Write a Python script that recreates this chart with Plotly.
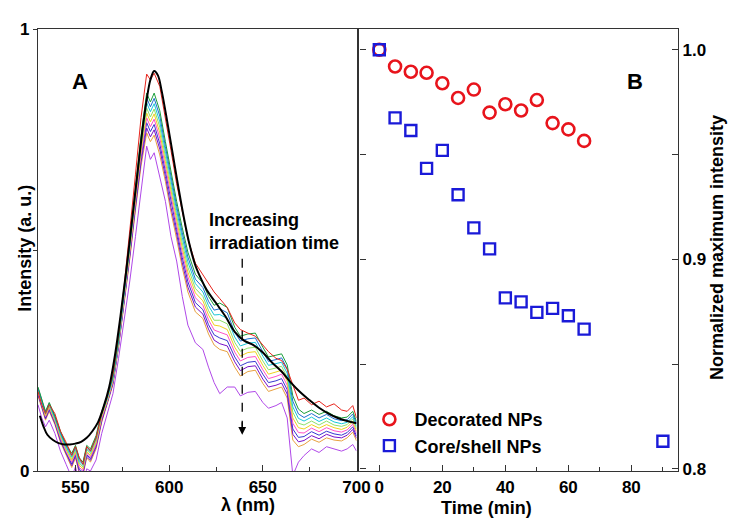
import plotly.graph_objects as go

# ---------------- Panel A data (spectra) ----------------
WL = [530, 532, 534, 536, 539, 542, 545, 548, 550, 552, 554, 556, 558, 561, 564, 567, 570, 573, 576, 579,
      582, 585, 588, 590, 592, 595, 598, 601, 604, 607, 610, 614, 618, 621, 624, 627, 631, 635, 638, 642,
      646, 650, 653, 657, 660, 663, 666, 669, 672, 676, 680, 684, 688, 692, 695, 698, 700]

RED = [0.18, 0.15, 0.13, 0.15, 0.13, 0.09, 0.065, 0.035, 0.055, 0.03, 0.015, 0.055, 0.045, 0.075, 0.13, 0.17, 0.22, 0.31, 0.42, 0.54,
       0.67, 0.80, 0.898, 0.885, 0.90, 0.87, 0.80, 0.725, 0.65, 0.585, 0.525, 0.47, 0.445, 0.425, 0.405, 0.39, 0.37, 0.335, 0.32, 0.312,
       0.305, 0.285, 0.27, 0.255, 0.25, 0.23, 0.195, 0.16, 0.165, 0.15, 0.158, 0.145, 0.152, 0.138, 0.135, 0.148, 0.12]

M1 = [0.19, 0.16, 0.135, 0.155, 0.125, 0.09, 0.06, 0.04, 0.058, 0.03, 0.02, 0.058, 0.05, 0.08, 0.135, 0.17, 0.215, 0.30, 0.405, 0.52,
      0.64, 0.76, 0.855, 0.835, 0.855, 0.815, 0.745, 0.675, 0.61, 0.55, 0.495, 0.445, 0.425, 0.395, 0.375, 0.38, 0.37, 0.325, 0.305, 0.31,
      0.312, 0.28, 0.258, 0.262, 0.265, 0.24, 0.17, 0.14, 0.13, 0.138, 0.128, 0.135, 0.125, 0.12, 0.122, 0.135, 0.112]

M2 = [0.188, 0.158, 0.133, 0.153, 0.123, 0.087, 0.057, 0.036, 0.055, 0.026, 0.016, 0.055, 0.046, 0.076, 0.132, 0.168, 0.213, 0.298, 0.401, 0.515,
      0.634, 0.751, 0.844, 0.824, 0.843, 0.803, 0.734, 0.664, 0.599, 0.539, 0.484, 0.434, 0.415, 0.384, 0.364, 0.367, 0.358, 0.314, 0.294, 0.299,
      0.301, 0.27, 0.248, 0.252, 0.256, 0.231, 0.158, 0.129, 0.121, 0.13, 0.12, 0.128, 0.118, 0.114, 0.116, 0.129, 0.107]

M3 = [0.185, 0.155, 0.13, 0.15, 0.12, 0.084, 0.054, 0.032, 0.051, 0.021, 0.013, 0.051, 0.043, 0.073, 0.129, 0.165, 0.21, 0.295, 0.398, 0.51,
      0.628, 0.743, 0.833, 0.813, 0.831, 0.79, 0.723, 0.653, 0.589, 0.528, 0.473, 0.424, 0.405, 0.374, 0.353, 0.354, 0.345, 0.303, 0.283, 0.289,
      0.291, 0.26, 0.239, 0.243, 0.246, 0.221, 0.145, 0.119, 0.113, 0.122, 0.112, 0.12, 0.111, 0.107, 0.11, 0.123, 0.101]

M4 = [0.183, 0.153, 0.128, 0.148, 0.118, 0.081, 0.051, 0.028, 0.048, 0.017, 0.009, 0.048, 0.039, 0.069, 0.126, 0.163, 0.208, 0.293, 0.394, 0.505,
      0.621, 0.734, 0.821, 0.801, 0.819, 0.778, 0.711, 0.641, 0.578, 0.516, 0.461, 0.413, 0.395, 0.363, 0.341, 0.341, 0.333, 0.291, 0.271, 0.278,
      0.28, 0.249, 0.229, 0.233, 0.237, 0.212, 0.133, 0.108, 0.104, 0.113, 0.104, 0.113, 0.104, 0.101, 0.105, 0.118, 0.096]

M5 = [0.18, 0.15, 0.125, 0.145, 0.115, 0.078, 0.048, 0.024, 0.044, 0.013, 0.005, 0.044, 0.035, 0.065, 0.123, 0.16, 0.205, 0.29, 0.39, 0.50,
      0.615, 0.725, 0.81, 0.79, 0.808, 0.765, 0.70, 0.63, 0.568, 0.505, 0.45, 0.403, 0.385, 0.353, 0.33, 0.328, 0.32, 0.28, 0.26, 0.268,
      0.27, 0.239, 0.219, 0.224, 0.228, 0.203, 0.12, 0.098, 0.095, 0.105, 0.097, 0.105, 0.098, 0.094, 0.099, 0.112, 0.09]

M6 = [0.178, 0.148, 0.123, 0.143, 0.113, 0.074, 0.044, 0.02, 0.041, 0.008, 0.001, 0.041, 0.031, 0.061, 0.119, 0.158, 0.203, 0.288, 0.386, 0.495,
      0.609, 0.716, 0.799, 0.779, 0.796, 0.753, 0.689, 0.619, 0.557, 0.494, 0.439, 0.392, 0.375, 0.342, 0.319, 0.314, 0.308, 0.269, 0.249, 0.257,
      0.259, 0.229, 0.209, 0.214, 0.219, 0.194, 0.108, 0.087, 0.086, 0.097, 0.089, 0.098, 0.091, 0.088, 0.093, 0.106, 0.085]

M7 = [0.175, 0.145, 0.12, 0.14, 0.11, 0.071, 0.041, 0.016, 0.037, 0.004, -0.003, 0.037, 0.028, 0.058, 0.116, 0.155, 0.20, 0.285, 0.383, 0.49,
      0.603, 0.708, 0.788, 0.768, 0.784, 0.74, 0.678, 0.608, 0.546, 0.483, 0.428, 0.381, 0.365, 0.331, 0.308, 0.301, 0.295, 0.258, 0.238, 0.246,
      0.248, 0.219, 0.20, 0.204, 0.209, 0.184, 0.095, 0.076, 0.078, 0.089, 0.081, 0.09, 0.084, 0.081, 0.087, 0.10, 0.079]

M8 = [0.173, 0.143, 0.118, 0.138, 0.108, 0.068, 0.038, 0.012, 0.034, -0.001, -0.006, 0.034, 0.024, 0.054, 0.113, 0.153, 0.198, 0.283, 0.379, 0.485,
      0.596, 0.699, 0.776, 0.756, 0.772, 0.728, 0.666, 0.596, 0.536, 0.471, 0.416, 0.371, 0.355, 0.321, 0.296, 0.288, 0.283, 0.247, 0.227, 0.236,
      0.238, 0.208, 0.19, 0.194, 0.199, 0.174, 0.083, 0.066, 0.069, 0.08, 0.073, 0.083, 0.077, 0.075, 0.081, 0.094, 0.074]

M9 = [0.17, 0.14, 0.115, 0.135, 0.105, 0.065, 0.035, 0.008, 0.03, -0.005, -0.01, 0.03, 0.02, 0.05, 0.11, 0.15, 0.195, 0.28, 0.375, 0.48,
      0.59, 0.69, 0.765, 0.745, 0.76, 0.715, 0.655, 0.585, 0.525, 0.46, 0.405, 0.36, 0.345, 0.31, 0.285, 0.275, 0.27, 0.235, 0.215, 0.225,
      0.228, 0.198, 0.18, 0.185, 0.19, 0.165, 0.07, 0.055, 0.06, 0.072, 0.065, 0.075, 0.07, 0.068, 0.075, 0.088, 0.068]

VIOLET = [0.15, 0.12, 0.10, 0.115, 0.085, 0.045, 0.015, -0.015, 0.01, -0.025, -0.03, 0.005, 0.0, 0.025, 0.085, 0.13, 0.175, 0.255, 0.34, 0.43,
          0.53, 0.63, 0.735, 0.705, 0.72, 0.665, 0.61, 0.53, 0.475, 0.395, 0.33, 0.29, 0.275, 0.235, 0.20, 0.175, 0.19, 0.19, 0.17, 0.178,
          0.18, 0.155, 0.142, 0.148, 0.155, 0.12, -0.01, 0.02, 0.035, 0.05, 0.042, 0.055, 0.05, 0.045, 0.05, 0.06, 0.045]

BLACK_WL = [531, 533, 535, 538, 541, 544, 547, 550, 553, 556, 559, 562, 565, 568, 571, 574, 577, 580, 583, 586,
            588, 590, 592, 594, 596, 599, 602, 605, 608, 611, 614, 617, 620, 625, 630, 635, 640, 645, 650, 655,
            660, 665, 670, 675, 680, 685, 690, 695, 700]
BLACK_I = [0.125, 0.10, 0.082, 0.07, 0.063, 0.06, 0.06, 0.062, 0.066, 0.075, 0.09, 0.11, 0.145, 0.19, 0.26, 0.35, 0.45, 0.56, 0.67, 0.78,
           0.84, 0.885, 0.905, 0.895, 0.86, 0.79, 0.715, 0.64, 0.57, 0.51, 0.465, 0.435, 0.41, 0.38, 0.35, 0.315, 0.295, 0.285, 0.268, 0.245,
           0.225, 0.20, 0.178, 0.16, 0.143, 0.13, 0.12, 0.113, 0.108]

# ---------------- Panel B data ----------------
TIME_DEC = [0, 5, 10, 15, 20, 25, 30, 35, 40, 45, 50, 55, 60, 65]
DECORATED = [1.0, 0.992, 0.9895, 0.989, 0.984, 0.977, 0.981, 0.970, 0.974, 0.971, 0.976, 0.965, 0.962, 0.9565]
TIME_CS = [0, 5, 10, 15, 20, 25, 30, 35, 40, 45, 50, 55, 60, 65, 90]
CORESHELL = [1.0, 0.9675, 0.9615, 0.9434, 0.952, 0.9308, 0.915, 0.905, 0.8816, 0.8797, 0.8747, 0.8766, 0.8731, 0.8667, 0.8132]

FONT = "Liberation Sans, Arial, sans-serif"

fig = go.Figure()

spectra = [
    (VIOLET, "#b048e8"),
    (M9, "#e8a040"),
    (M8, "#7a10c8"),
    (M7, "#3838d0"),
    (M6, "#ff50c8"),
    (M5, "#f0d020"),
    (M4, "#8ee06a"),
    (M3, "#18c8d8"),
    (M2, "#1f6fd0"),
    (M1, "#1a9e3a"),
    (RED, "#e8241c"),
]
for vals, col in spectra:
    fig.add_trace(go.Scatter(x=WL, y=vals, mode="lines", line=dict(color=col, width=1),
                             xaxis="x", yaxis="y", showlegend=False, hoverinfo="skip"))

fig.add_trace(go.Scatter(x=BLACK_WL, y=BLACK_I, mode="lines", line=dict(color="black", width=2, shape="spline"),
                         xaxis="x", yaxis="y", showlegend=False, hoverinfo="skip"))

fig.add_trace(go.Scatter(x=TIME_DEC, y=DECORATED, mode="markers", name="Decorated NPs",
                         marker=dict(symbol="circle-open", size=12, color="#e8141c", line=dict(width=2.6, color="#e8141c")),
                         xaxis="x2", yaxis="y2"))
fig.add_trace(go.Scatter(x=TIME_CS, y=CORESHELL, mode="markers", name="Core/shell NPs",
                         marker=dict(symbol="square-open", size=11, color="#1a1ad8", line=dict(width=2.4, color="#1a1ad8")),
                         xaxis="x2", yaxis="y2"))

axis_common = dict(showline=True, linecolor="#333333", linewidth=1.2, mirror=True, showgrid=False, zeroline=False,
                   tickfont=dict(family=FONT, size=17, color="black", weight="bold"), tickcolor="#333333")

# page body has an 8px margin, so the figure is 8px smaller than the window
fig.update_layout(
    width=729, height=522,
    margin=dict(l=27, r=59, t=16, b=59),
    paper_bgcolor="white", plot_bgcolor="white",
    font=dict(family=FONT, color="black"),
    xaxis=dict(domain=[0, 0.4977], range=[530, 700], tickmode="array", tickvals=[550, 600, 650, 700],
               ticks="inside", ticklen=6, minor=dict(tickvals=[575, 625, 675], ticks="inside", ticklen=4, tickcolor="#333333"),
               anchor="y", **axis_common),
    yaxis=dict(domain=[0, 1], range=[0, 1], tickmode="array", tickvals=[0, 0.5, 1], ticktext=["0", "", "1"],
               ticks="outside", ticklen=4, anchor="x", **axis_common),
    xaxis2=dict(domain=[0.5023, 1], range=[-6.3, 94.8], tickmode="array", tickvals=[0, 20, 40, 60, 80],
                ticks="inside", ticklen=6, minor=dict(tickvals=[10, 30, 50, 70, 90], ticks="inside", ticklen=4, tickcolor="#333333"),
                anchor="y2", **axis_common),
    yaxis2=dict(domain=[0, 1], range=[0.799, 1.0099], tickmode="array", tickvals=[0.8, 0.9, 1.0],
                ticktext=["0.8", "0.9", "1.0"], side="right", ticks="inside", ticklen=6,
                minor=dict(tickvals=[0.85, 0.95], ticks="inside", ticklen=6, tickcolor="#333333"),
                anchor="x2", **{**axis_common, "mirror": "ticks"}),
    legend=dict(x=0.51, y=0.087, xanchor="left", yanchor="middle", bgcolor="rgba(0,0,0,0)",
                font=dict(family=FONT, size=18, color="black", weight="bold"), itemwidth=40, tracegroupgap=0),
)

tf = dict(family=FONT, size=18, color="black", weight="bold")
anns = [
    dict(text="A", x=0.0498, y=0.915, xref="paper", yref="paper", showarrow=False,
         font=dict(family=FONT, size=22, color="black", weight="bold")),
    dict(text="B", x=0.9487, y=0.915, xref="paper", yref="paper", showarrow=False,
         font=dict(family=FONT, size=22, color="black", weight="bold")),
    dict(text="Increasing<br>irradiation time", x=0.2644, y=0.541, xref="paper", yref="paper", showarrow=False,
         xanchor="left", yanchor="middle", align="left", font=tf),
    dict(text="λ (nm)", x=0.283, y=-0.078, xref="paper", yref="paper", showarrow=False, yanchor="middle", font=tf),
    dict(text="Time (min)", x=0.7745, y=-0.083, xref="paper", yref="paper", showarrow=False, yanchor="middle", font=tf),
    dict(text="Intensity (a. u.)", x=-0.0202, y=0.503, xref="paper", yref="paper", showarrow=False, textangle=-90,
         xanchor="center", yanchor="middle", font=tf),
    dict(text="Normalized maximum intensity", x=1.062, y=0.506, xref="paper", yref="paper", showarrow=False,
         textangle=-90, xanchor="center", yanchor="middle", font=tf),
    dict(text="", x=639, y=0.082, xref="x", yref="y", showarrow=True, ax=0, ay=-14,
         arrowhead=2, arrowsize=1.2, arrowwidth=1.3, arrowcolor="black"),
]
fig.update_layout(annotations=anns)
fig.add_shape(type="line", x0=639, x1=639, y0=0.48, y1=0.10, xref="x", yref="y",
              line=dict(color="black", width=1.3, dash="dash"))

fig.write_html("out.html")
